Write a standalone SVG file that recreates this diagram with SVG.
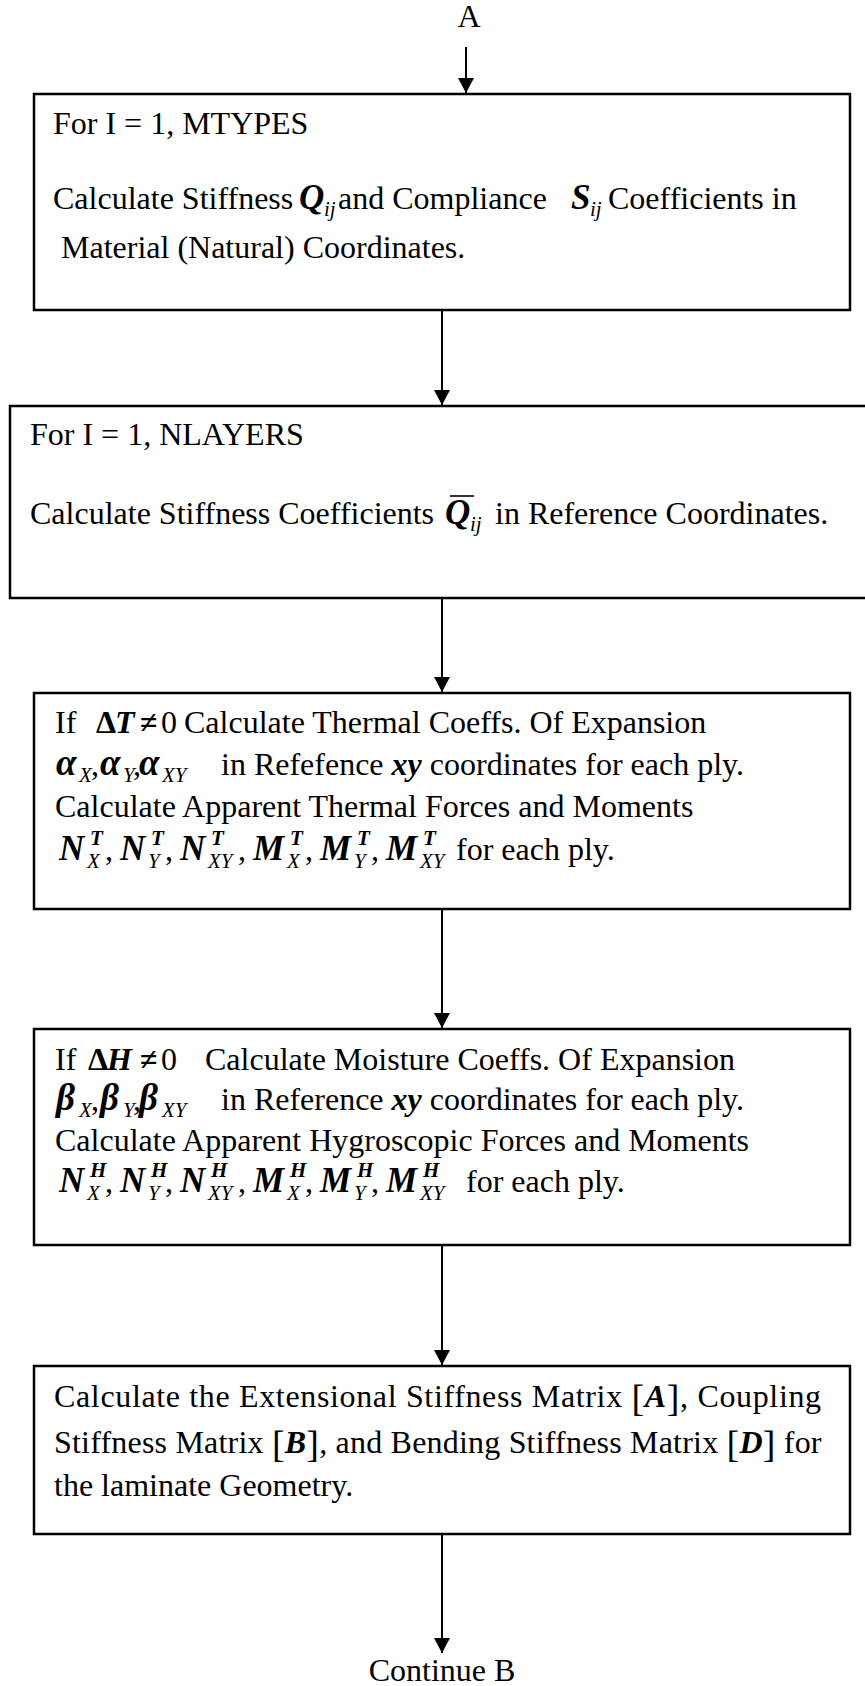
<svg xmlns="http://www.w3.org/2000/svg" width="865" height="1686" viewBox="0 0 865 1686">
<defs>
<marker id="ah" markerWidth="16" markerHeight="16" refX="15" refY="8" orient="auto" markerUnits="userSpaceOnUse">
<path d="M0,0 L15,8 L0,16 z" fill="#000"/>
</marker>
<style>
.t{font-family:'Liberation Serif','Times New Roman',serif;font-size:32px;fill:#000}
.bi{font-weight:bold;font-style:italic}
.m{font-weight:bold;font-style:italic;font-size:35px}
.g{font-weight:bold;font-style:italic;font-size:37px}
.b{font-weight:bold}
.s{font-size:21px;font-style:italic;font-weight:normal}
.sb{font-size:21px;font-style:italic;font-weight:bold}
.br{font-size:38px;font-weight:normal;font-style:normal}
.box{fill:#fff;stroke:#000;stroke-width:2.5}
.c{stroke:#000;stroke-width:2;fill:none}
.bar{stroke:#000;stroke-width:1.6}
</style>
</defs>
<rect width="865" height="1686" fill="#fff"/>

<g id="startA">
<text class="t" x="469" y="27" text-anchor="middle">A</text>
</g>

<g id="node1">
<rect class="box" x="34" y="94" width="816" height="216"/>
<text class="t" x="53" y="134">For I = 1, MTYPES</text>
<text class="t" y="209"><tspan x="53">Calculate Stiffness</tspan><tspan x="299" class="m">Q</tspan><tspan x="324" y="216" class="s">ij</tspan><tspan x="338" y="209">and Compliance</tspan><tspan x="571" class="m">S</tspan><tspan x="590" y="216" class="s">ij</tspan><tspan x="608" y="209">Coefficients in</tspan></text>
<text class="t" x="61" y="258">Material (Natural) Coordinates.</text>
</g>

<g id="node2">
<rect class="box" x="10" y="406" width="880" height="192"/>
<text class="t" x="30" y="445">For I = 1, NLAYERS</text>
<text class="t" y="524"><tspan x="30">Calculate Stiffness Coefficients</tspan><tspan x="445" class="m">Q</tspan><tspan x="470" y="531" class="s">ij</tspan><tspan x="495" y="524">in Reference Coordinates.</tspan></text>
<line class="bar" x1="450" y1="496" x2="474" y2="496"/>
</g>

<g id="node3">
<rect class="box" x="34" y="693" width="816" height="216"/>
<text class="t" y="733"><tspan x="55">If</tspan><tspan x="96" class="b">Δ</tspan><tspan x="115" class="bi">T</tspan><tspan x="140" class="b">≠</tspan><tspan x="161">0</tspan><tspan x="184">Calculate Thermal Coeffs. Of Expansion</tspan></text>
<text class="t" y="775"><tspan x="56" class="g">α</tspan><tspan x="79" y="782" class="s">X</tspan><tspan x="91" y="775">,</tspan><tspan x="100" class="g">α</tspan><tspan x="123" y="782" class="s">Y</tspan><tspan x="133" y="775">,</tspan><tspan x="139" class="g">α</tspan><tspan x="162" y="782" class="s">XY</tspan><tspan x="221" y="775">in Refefence </tspan><tspan class="bi">xy</tspan><tspan> coordinates for each ply.</tspan></text>
<text class="t" x="55" y="817">Calculate Apparent Thermal Forces and Moments</text>
<text class="t" y="860"><tspan x="59" class="m">N</tspan><tspan x="87" y="868" class="s">X</tspan><tspan x="90" y="845" class="sb">T</tspan><tspan x="105" y="860">,</tspan><tspan x="120" class="m">N</tspan><tspan x="148" y="868" class="s">Y</tspan><tspan x="151" y="845" class="sb">T</tspan><tspan x="165" y="860">,</tspan><tspan x="180" class="m">N</tspan><tspan x="208" y="868" class="s">XY</tspan><tspan x="211" y="845" class="sb">T</tspan><tspan x="238" y="860">,</tspan><tspan x="253" class="m">M</tspan><tspan x="287" y="868" class="s">X</tspan><tspan x="290" y="845" class="sb">T</tspan><tspan x="305" y="860">,</tspan><tspan x="320" class="m">M</tspan><tspan x="354" y="868" class="s">Y</tspan><tspan x="357" y="845" class="sb">T</tspan><tspan x="371" y="860">,</tspan><tspan x="386" class="m">M</tspan><tspan x="420" y="868" class="s">XY</tspan><tspan x="423" y="845" class="sb">T</tspan><tspan x="456" y="860">for each ply.</tspan></text>
</g>

<g id="node4">
<rect class="box" x="34" y="1029" width="816" height="216"/>
<text class="t" y="1070"><tspan x="55">If</tspan><tspan x="88" class="b">Δ</tspan><tspan x="107" class="bi">H</tspan><tspan x="140" class="b">≠</tspan><tspan x="161">0</tspan><tspan x="205">Calculate Moisture Coeffs. Of Expansion</tspan></text>
<text class="t" y="1110"><tspan x="56" class="g">β</tspan><tspan x="79" y="1117" class="s">X</tspan><tspan x="91" y="1110">,</tspan><tspan x="100" class="g">β</tspan><tspan x="123" y="1117" class="s">Y</tspan><tspan x="133" y="1110">,</tspan><tspan x="139" class="g">β</tspan><tspan x="162" y="1117" class="s">XY</tspan><tspan x="221" y="1110">in Reference </tspan><tspan class="bi">xy</tspan><tspan> coordinates for each ply.</tspan></text>
<text class="t" x="55" y="1151">Calculate Apparent Hygroscopic Forces and Moments</text>
<text class="t" y="1192"><tspan x="59" class="m">N</tspan><tspan x="87" y="1200" class="s">X</tspan><tspan x="90" y="1177" class="sb">H</tspan><tspan x="105" y="1192">,</tspan><tspan x="120" class="m">N</tspan><tspan x="148" y="1200" class="s">Y</tspan><tspan x="151" y="1177" class="sb">H</tspan><tspan x="165" y="1192">,</tspan><tspan x="180" class="m">N</tspan><tspan x="208" y="1200" class="s">XY</tspan><tspan x="211" y="1177" class="sb">H</tspan><tspan x="238" y="1192">,</tspan><tspan x="253" class="m">M</tspan><tspan x="287" y="1200" class="s">X</tspan><tspan x="290" y="1177" class="sb">H</tspan><tspan x="305" y="1192">,</tspan><tspan x="320" class="m">M</tspan><tspan x="354" y="1200" class="s">Y</tspan><tspan x="357" y="1177" class="sb">H</tspan><tspan x="371" y="1192">,</tspan><tspan x="386" class="m">M</tspan><tspan x="420" y="1200" class="s">XY</tspan><tspan x="423" y="1177" class="sb">H</tspan><tspan x="466" y="1192">for each ply.</tspan></text>
</g>

<g id="node5">
<rect class="box" x="34" y="1366" width="816" height="168"/>
<text class="t" y="1407" style="letter-spacing:0.65px"><tspan x="54">Calculate the Extensional Stiffness Matrix </tspan><tspan class="br" dy="4">[</tspan><tspan class="bi" dy="-4">A</tspan><tspan class="br" dy="4">]</tspan><tspan dy="-4">, Coupling</tspan></text>
<text class="t" y="1453" style="letter-spacing:0.2px"><tspan x="54">Stiffness Matrix </tspan><tspan class="br" dy="4">[</tspan><tspan class="bi" dy="-4">B</tspan><tspan class="br" dy="4">]</tspan><tspan dy="-4">, and Bending Stiffness Matrix </tspan><tspan class="br" dy="4">[</tspan><tspan class="bi" dy="-4">D</tspan><tspan class="br" dy="4">]</tspan><tspan dy="-4"> for</tspan></text>
<text class="t" x="54" y="1496">the laminate Geometry.</text>
</g>

<g id="endB">
<text class="t" x="442" y="1681" text-anchor="middle">Continue B</text>
</g>

<g id="connectors">
<line class="c" x1="466" y1="47" x2="466" y2="93" marker-end="url(#ah)"/>
<line class="c" x1="442" y1="310" x2="442" y2="405" marker-end="url(#ah)"/>
<line class="c" x1="442" y1="598" x2="442" y2="692" marker-end="url(#ah)"/>
<line class="c" x1="442" y1="909" x2="442" y2="1028" marker-end="url(#ah)"/>
<line class="c" x1="442" y1="1245" x2="442" y2="1365" marker-end="url(#ah)"/>
<line class="c" x1="442" y1="1534" x2="442" y2="1653" marker-end="url(#ah)"/>
</g>
</svg>
